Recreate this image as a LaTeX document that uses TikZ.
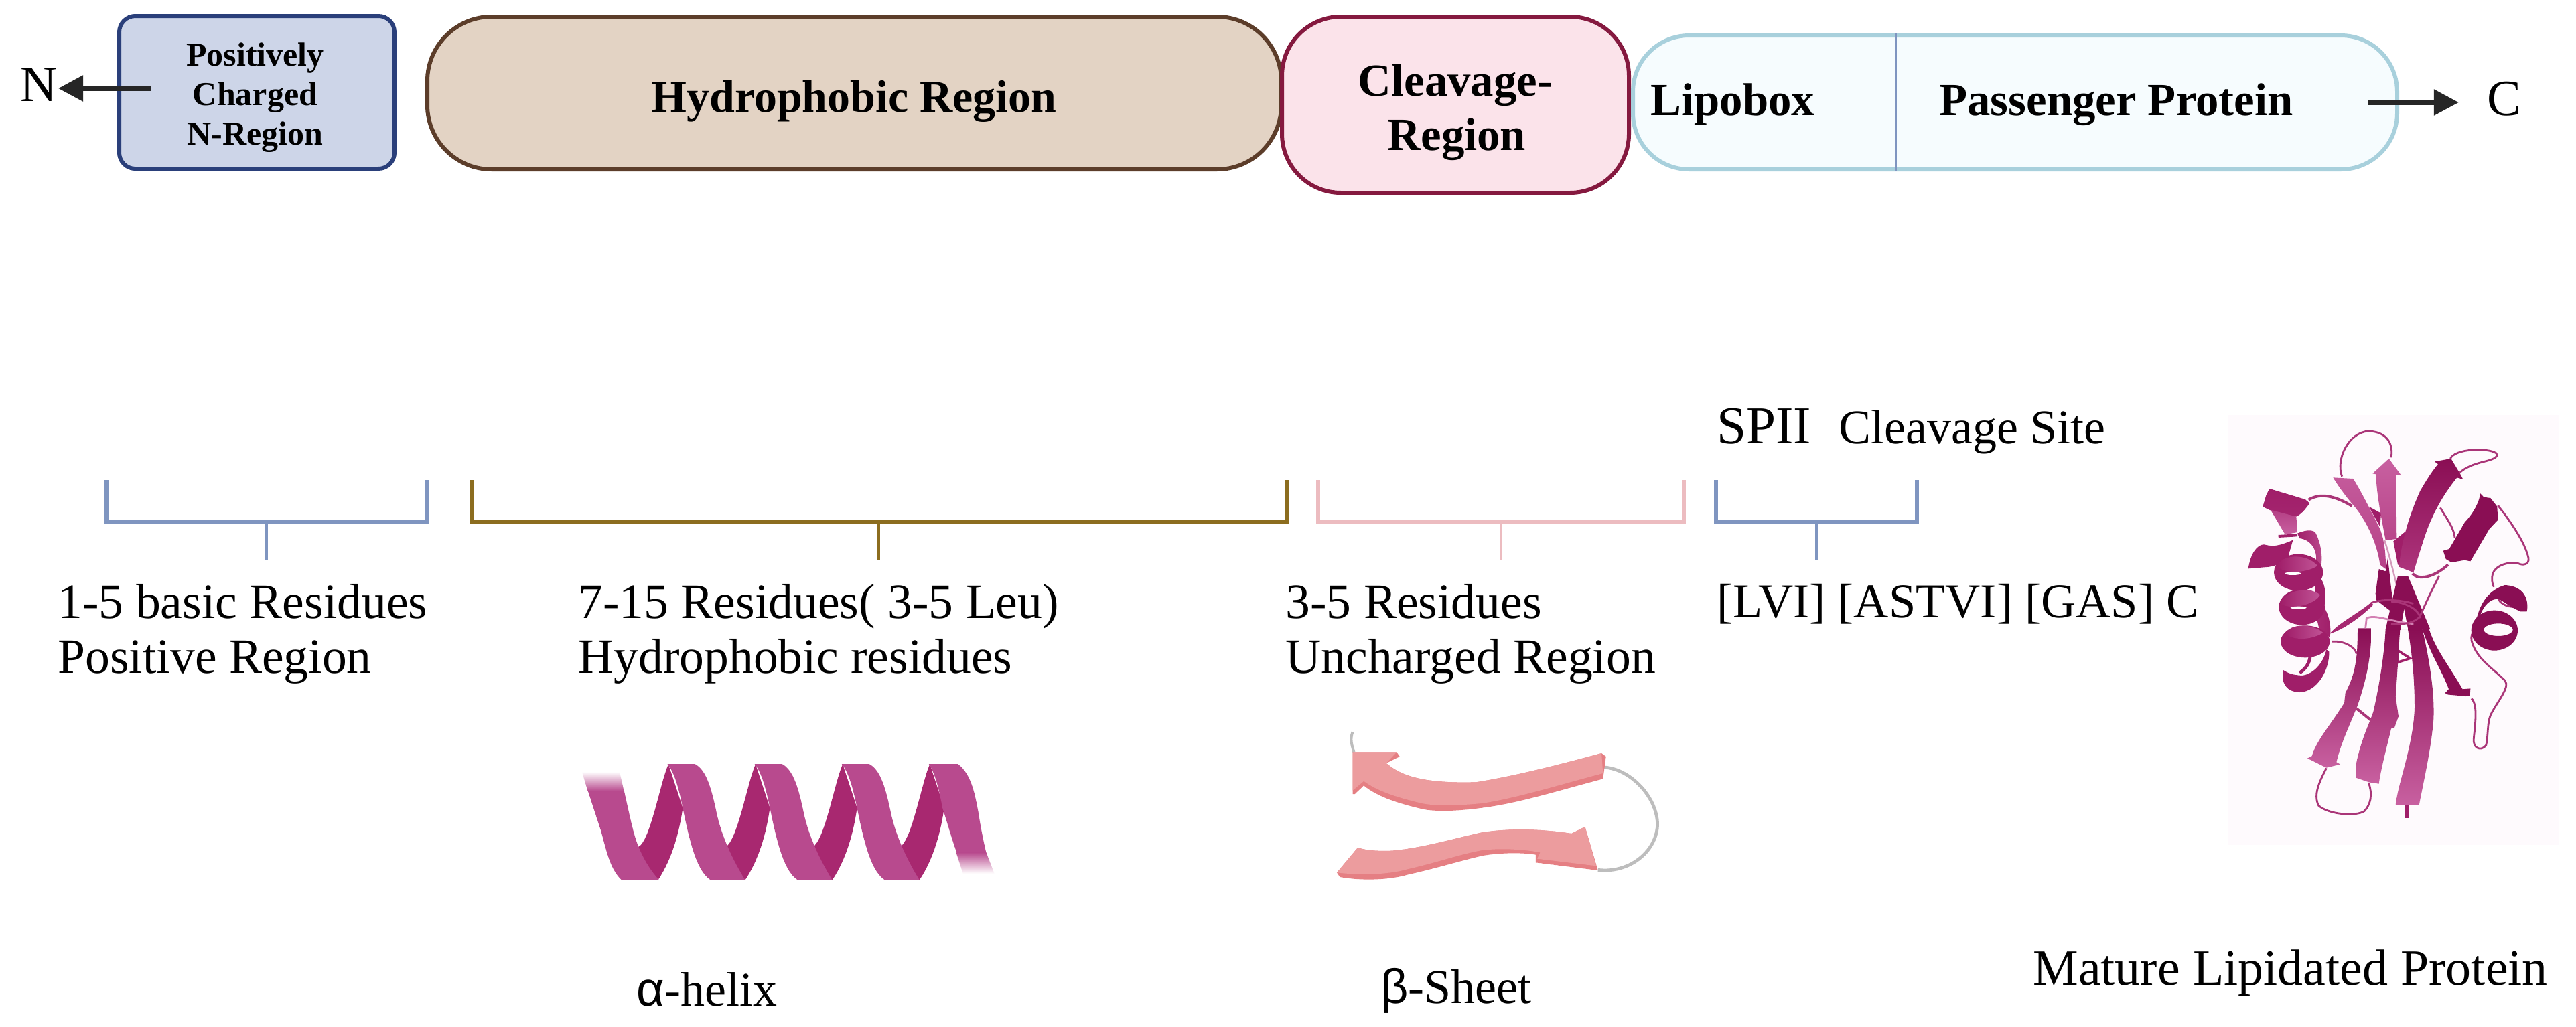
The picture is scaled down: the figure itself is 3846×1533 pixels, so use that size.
\documentclass[tikz,border=0pt]{standalone}
\usepackage{fontspec}
\setmainfont{Liberation Serif}
\newfontfamily\greekfont{Liberation Sans}
\usetikzlibrary{arrows.meta}

\definecolor{nblue}{RGB}{42,63,122}
\definecolor{nfill}{RGB}{205,213,232}
\definecolor{hbrown}{RGB}{92,61,42}
\definecolor{hfill}{RGB}{227,211,196}
\definecolor{cred}{RGB}{133,25,63}
\definecolor{cfill}{RGB}{251,227,234}
\definecolor{lcyan}{RGB}{168,208,220}
\definecolor{lfill}{RGB}{246,252,254}
\definecolor{brblue}{RGB}{127,149,192}
\definecolor{brgold}{RGB}{140,109,31}
\definecolor{brpink}{RGB}{236,188,192}
\definecolor{helixlight}{RGB}{184,74,142}
\definecolor{helixdark}{RGB}{168,40,112}
\definecolor{sheetlight}{RGB}{236,156,158}
\definecolor{sheetdark}{RGB}{229,127,131}
\definecolor{loopgrey}{RGB}{189,189,189}
\definecolor{protdark}{RGB}{138,14,84}
\definecolor{protmid}{RGB}{160,30,105}
\definecolor{protlight}{RGB}{200,96,160}
\definecolor{protback}{RGB}{254,250,253}

\tikzset{
  every picture/.style={line width=0.75pt},
  regionbox/.style={draw,line width=1.5pt,inner sep=0pt,align=center},
  labeltext/.style={font=\fontsize{18.4}{20.5}\selectfont,inner sep=0pt,align=left,anchor=north west},
  boldtext/.style={font=\fontsize{17.2}{20.2}\selectfont\bfseries,inner sep=0pt,align=center},
  endarrow/.style={line width=2pt,-{Triangle[length=9.3pt,width=9.3pt]}},
  bracketline/.style={line width=1.35pt},
  stemline/.style={line width=0.9pt},
  protloop/.style={draw=protmid!90,line width=0.7pt,fill=none},
  cropa/.style={shift={(3340,630)},scale=0.3333},
  cropb/.style={shift={(3580,630)},scale=0.3333},
  cropd/.style={shift={(3420,940)},scale=0.3333}
}

\begin{document}
\begin{tikzpicture}[x=0.25pt,y=0.25pt,yscale=-1,xscale=1]
\useasboundingbox (0,0) rectangle (3846,1533);

%Shape: Region Boxes
\draw (383.5,138) node (nreg) [regionbox,draw=nblue,fill=nfill,rounded corners=6pt,minimum width=102.75pt,minimum height=57pt] {};
\draw (1275.5,139) node (hreg) [regionbox,draw=hbrown,fill=hfill,rounded corners=24pt,minimum width=318.75pt,minimum height=57pt] {};
\draw (2173,156.5) node (creg) [regionbox,draw=cred,fill=cfill,rounded corners=22pt,minimum width=129.5pt,minimum height=65.75pt] {};
\draw (3008.5,153) node (lreg) [regionbox,draw=lcyan,fill=lfill,rounded corners=21pt,minimum width=285.25pt,minimum height=50pt] {};

%Straight Lines
\coordinate (lipodiv) at (2830,153);
\draw [color=brblue] (lipodiv |- lreg.north) -- (lipodiv |- lreg.south);

% Text Node
\draw (381,98) node (ntext) [anchor=base,inner sep=0pt,align=center,font=\fontsize{12.5}{14.75}\selectfont\bfseries] {Positively};
\draw (381,157) node (ntextb) [anchor=base,inner sep=0pt,font=\fontsize{12.5}{14.75}\selectfont\bfseries] {Charged};
\draw (381,216) node (ntextc) [anchor=base,inner sep=0pt,font=\fontsize{12.5}{14.75}\selectfont\bfseries] {N-Region};
% Text Node
\draw (971,167) node (htext) [boldtext,anchor=base west,font=\fontsize{17}{20}\selectfont\bfseries] {Hydrophobic Region};
% Text Node
\draw (2173,143) node (ctexta) [boldtext,anchor=base] {Cleavage-};
\draw (2175,224) node (ctextb) [boldtext,anchor=base] {Region};
% Text Node
\draw (2463,172) node (ltext) [boldtext,anchor=base west] {Lipobox};
\draw (2894,172) node (ptext) [boldtext,anchor=base west] {Passenger Protein};
% Text Node
\draw (29,151) node (nend) [anchor=base west,inner sep=0pt,font=\fontsize{19}{20}\selectfont] {N};
\draw (3712,172) node (cend) [anchor=base west,inner sep=0pt,font=\fontsize{19}{20}\selectfont] {C};

%Straight Lines
\coordinate (narrow) at (225,132);
\coordinate (carrow) at (3535,153);
\coordinate (ctip) at (3671,153);
\draw [endarrow,color=black!85] (narrow) -- (nend.east |- narrow);
\draw [endarrow,color=black!85] (carrow) -- (ctip);

%Shape: Brackets
\draw [bracketline,color=brblue] (159,717) -- (159,780) -- (638,780) -- (638,717);
\draw [bracketline,color=brgold] (704,717) -- (704,780) -- (1922,780) -- (1922,717);
\draw [bracketline,color=brpink] (1968,717) -- (1968,780) -- (2514,780) -- (2514,717);
\draw [bracketline,color=brblue] (2562,717) -- (2562,780) -- (2862,780) -- (2862,717);
\coordinate (posa) at (398,780);
\coordinate (posb) at (398,837);
\coordinate (hyda) at (1312,780);
\coordinate (hydb) at (1312,837);
\coordinate (unca) at (2241,780);
\coordinate (uncb) at (2241,837);
\coordinate (siga) at (2712,780);
\coordinate (sigb) at (2712,837);
\draw [stemline,color=brblue] (posa) -- (posb);
\draw [stemline,color=brgold] (hyda) -- (hydb);
\draw [stemline,color=brpink] (unca) -- (uncb);
\draw [stemline,color=brblue] (siga) -- (sigb);

% Text Node
\draw (85,871) node (postext) [labeltext] {1-5 basic Residues\\Positive Region};
\draw (862,871) node (hydtext) [labeltext] {7-15 Residues( 3-5 Leu)\\Hydrophobic residues};
\draw (1918,871) node (unctext) [labeltext] {3-5 Residues\\Uncharged Region};
\draw (2562,871) node (lvitext) [labeltext,font=\fontsize{18.1}{20.5}\selectfont] {[LVI] [ASTVI] [GAS] C};
\draw (2562,662) node (spii) [anchor=base west,inner sep=0pt,font=\fontsize{19.8}{21}\selectfont] {SPII};
\draw (2744,662) node (sitetext) [anchor=base west,inner sep=0pt,font=\fontsize{18}{20}\selectfont] {Cleavage Site};
\draw (949,1502) node (alpha) [anchor=base west,inner sep=0pt,font=\fontsize{18}{20}\selectfont] {{\greekfont α}-helix};
\draw (2060,1498) node (beta) [anchor=base west,inner sep=0pt,font=\fontsize{18}{20}\selectfont] {{\greekfont β}-Sheet};
\draw (3034,1471) node (mature) [anchor=base west,inner sep=0pt,font=\fontsize{19}{20}\selectfont] {Mature Lipidated Protein};

%Shape: Helix
\begin{scope}[shift={(800,1060)},xscale=0.5102,yscale=0.3333]
\foreach \k in {0,255,510,765} {
  \fill [helixdark,shift={(\k,0)}] (300,615) .. controls (335,590) and (365,320) .. (388,245) -- (430,440) .. controls (415,600) and (385,700) .. (358,762) -- (320,762) -- cycle;
}
\foreach \k in {0,255,510} {
  \fill [helixlight,shift={(\k,0)}] (385,243) -- (465,243) .. controls (500,270) and (515,360) .. (530,470) .. controls (545,570) and (575,670) .. (612,762) -- (510,762) .. controls (470,720) and (450,590) .. (430,440) .. controls (418,350) and (405,280) .. (385,243) -- cycle;
}
\fill [helixlight] (152,362) -- (258,362) .. controls (270,440) and (285,560) .. (300,612) .. controls (315,670) and (335,720) .. (360,762) -- (250,762) .. controls (215,710) and (205,620) .. (190,540) -- cycle;
\shade [top color=white,bottom color=helixlight] (135,278) -- (245,278) -- (258,365) -- (152,365) -- cycle;
\fill [helixlight] (1150,243) -- (1235,243) .. controls (1275,290) and (1285,380) .. (1295,460) .. controls (1302,530) and (1310,590) .. (1318,642) -- (1232,642) .. controls (1215,570) and (1205,510) .. (1190,440) .. controls (1180,360) and (1170,290) .. (1150,243) -- cycle;
\shade [top color=helixlight,bottom color=white] (1230,640) -- (1318,640) -- (1342,735) -- (1250,735) -- cycle;
\end{scope}

%Shape: Sheet
\begin{scope}[shift={(1900,1060)},xscale=0.4464,yscale=0.3333]
\draw [color=loopgrey,line width=1.2pt] (1108,258) .. controls (1200,265) and (1290,400) .. (1287,520) .. controls (1282,640) and (1190,735) .. (1088,718);
\draw [color=loopgrey,line width=1pt] (268,100) .. controls (258,130) and (265,160) .. (272,190);
\fill [sheetdark] (268,190) -- (415,190) -- (425,210) -- (380,240) -- (395,255) .. controls (450,310) and (540,330) .. (680,325) .. controls (800,300) and (950,250) .. (1100,195) -- (1115,210) -- (1105,310) .. controls (950,365) and (820,420) .. (700,440) .. controls (620,455) and (540,458) .. (500,445) .. controls (420,420) and (350,390) .. (305,340) -- (275,378) -- (268,378) -- cycle;
\fill [sheetlight] (268,190) -- (415,190) -- (380,240) -- (395,255) .. controls (450,310) and (540,330) .. (680,325) .. controls (800,300) and (950,250) .. (1100,195) -- (1105,285) .. controls (950,340) and (820,395) .. (700,420) .. controls (620,430) and (540,432) .. (500,420) .. controls (420,395) and (350,365) .. (305,320) -- (268,362) -- cycle;
\fill [sheetdark] (285,618) -- (215,730) -- (225,750) .. controls (310,770) and (400,760) .. (450,740) .. controls (550,710) and (620,680) .. (700,655) .. controls (760,640) and (840,640) .. (880,650) -- (880,685) -- (1088,720) -- (1045,525) -- (1000,555) .. controls (900,535) and (800,530) .. (700,550) .. controls (600,580) and (500,620) .. (400,632) .. controls (350,635) and (310,630) .. (285,618) -- cycle;
\fill [sheetlight] (285,618) -- (215,730) .. controls (310,745) and (400,735) .. (450,715) .. controls (550,685) and (620,650) .. (700,630) .. controls (760,620) and (840,625) .. (895,640) -- (885,668) -- (1082,700) -- (1045,525) -- (1000,555) .. controls (900,535) and (800,530) .. (700,550) .. controls (600,580) and (500,620) .. (400,632) .. controls (350,635) and (310,630) .. (285,618) -- cycle;
\end{scope}

%Shape: Protein
\fill [protback] (3327,620) rectangle (3820,1262);
% left part
\begin{scope}[cropa]
\draw [protloop] (470,245) .. controls (440,170) and (500,45) .. (590,42) .. controls (680,45) and (700,110) .. (690,160);
\draw [protloop,line width=1pt] (320,350) .. controls (360,325) and (420,320) .. (515,378);
\fill [protmid] (590,380) -- (645,410) -- (640,470) -- cycle;
\fill [protmid] (700,535) -- (750,495) -- (790,520) -- (760,660) -- (720,640) -- cycle;
\shade [top color=protlight!90!protmid,bottom color=protlight!55!protmid] (430,250) -- (520,255) .. controls (560,320) and (610,420) .. (640,480) .. controls (660,530) and (668,600) .. (665,660) -- (640,640) .. controls (630,560) and (590,460) .. (530,385) .. controls (500,350) and (460,300) .. (430,250) -- cycle;
\fill [protdark] (635,660) -- (665,670) -- (675,610) -- (695,790) -- (690,850) -- (625,800) -- (620,770) -- cycle;
\shade [top color=protlight,bottom color=protlight!60!protmid] (680,165) -- (735,240) -- (712,238) -- (715,525) -- (665,530) .. controls (640,400) and (625,320) .. (622,235) -- (607,232) -- cycle;
\draw [protmid!45,line width=0.6pt] (660,530) .. controls (690,620) and (710,720) .. (730,790);
\shade [top color=protmid,bottom color=protmid!90!protlight] (145,300) -- (305,348) -- (325,365) .. controls (300,400) and (285,415) .. (265,425) .. controls (200,420) and (150,400) .. (115,380) -- (130,330) -- cycle;
\shade [top color=protlight!50!protmid,bottom color=protlight] (150,395) -- (265,425) -- (270,495) -- (215,505) -- cycle;
\fill [protmid] (50,658) .. controls (60,590) and (90,550) .. (120,550) .. controls (150,556) and (170,565) .. (250,530) -- (230,600) .. controls (210,630) and (175,650) .. (120,652) -- cycle;
\shade [left color=protmid,right color=protlight!70!protmid] (270,500) .. controls (300,488) and (330,480) .. (350,495) .. controls (380,550) and (392,640) .. (360,690) -- (350,640) .. controls (365,590) and (340,530) .. (280,522) -- cycle;
\draw [protmid,line width=1pt] (185,513) -- (270,508);
\fill [protmid] (365,690) .. controls (395,720) and (405,780) .. (385,850) -- (350,800) -- (350,720) -- cycle;
\shade [left color=protmid!80!protlight,right color=protmid] (375,810) .. controls (410,850) and (425,920) .. (415,965) -- (370,940) -- (350,850) -- cycle;
\fill [protmid] (275,675) ellipse [x radius=110, y radius=82];
\shade [left color=protmid,right color=protlight!80!protmid] (180,650) .. controls (190,595) and (310,585) .. (360,645) .. controls (320,675) and (220,685) .. (180,650) -- cycle;
\fill [white] (250,680) ellipse [x radius=36, y radius=7];
\fill [protmid] (290,830) ellipse [x radius=103, y radius=80];
\shade [left color=protmid,right color=protlight!80!protmid] (192,815) .. controls (215,755) and (320,735) .. (372,775) .. controls (350,820) and (240,845) .. (192,815) -- cycle;
\fill [white] (275,833) ellipse [x radius=36, y radius=6];
\fill [protmid] (305,985) ellipse [x radius=110, y radius=72];
\shade [left color=protmid,right color=protlight!80!protmid] (215,950) .. controls (240,900) and (340,905) .. (385,945) .. controls (340,975) and (260,985) .. (215,950) -- cycle;
\end{scope}
% lower part
\begin{scope}[cropd]
\draw [protloop] (185,55) .. controls (240,50) and (290,80) .. (295,110);
\draw [protmid,line width=1.2pt] (40,195) .. controls (70,175) and (85,150) .. (88,115);
\fill [protmid] (-33,183) .. controls (0,205) and (30,205) .. (50,207) .. controls (110,200) and (150,140) .. (160,90) -- (172,100) .. controls (175,180) and (120,280) .. (40,282) .. controls (-20,280) and (-45,240) .. (-33,183) -- cycle;
\draw [protloop] (810,310) .. controls (840,340) and (825,430) .. (820,490) .. controls (815,530) and (850,550) .. (875,520) .. controls (885,480) and (880,420) .. (895,385) .. controls (920,330) and (985,260) .. (960,230) .. controls (900,170) and (830,130) .. (810,50) .. controls (808,30) and (810,15) .. (830,0);
\draw [protloop] (160,622) .. controls (130,680) and (100,740) .. (125,790) .. controls (170,830) and (290,840) .. (330,815) .. controls (370,770) and (360,720) .. (350,690);
\draw [protloop,line width=1pt] (295,355) -- (357,405);
\draw [protmid,line width=1.1pt] (520,788) -- (520,845);
\draw [protmid,line width=0.9pt,fill=white] (480,95) -- (535,130) -- (480,148) -- cycle;
\fill [protdark] (480,-240) -- (525,-240) -- (625,0) -- (425,0) -- cycle;
\fill [white] (492,2) -- (526,2) -- (508,-90) -- cycle;
\fill [protdark] (590,0) -- (620,0) .. controls (650,90) and (700,150) .. (770,268) -- (805,265) -- (803,298) -- (785,300) -- (700,292) -- (692,285) -- (708,268) .. controls (680,190) and (630,120) .. (590,0) -- cycle;
\shade [top color=protdark,bottom color=protlight] (300,-5) -- (362,-5) .. controls (360,130) and (340,220) .. (300,340) .. controls (260,440) and (225,510) .. (205,595) -- (222,605) -- (160,620) -- (75,578) -- (95,568) .. controls (115,500) and (170,440) .. (240,330) -- (245,285) .. controls (290,200) and (300,130) .. (300,-5) -- cycle;
\shade [top color=protdark,bottom color=protlight] (425,0) .. controls (420,100) and (400,240) .. (370,370) -- (355,410) .. controls (330,470) and (305,540) .. (292,610) -- (292,665) -- (350,685) -- (395,692) .. controls (405,620) and (435,510) .. (450,445) -- (465,440) -- (483,390) -- (470,300) .. controls (480,170) and (485,60) .. (490,0) -- cycle;
\shade [top color=protdark,bottom color=protlight] (525,0) -- (590,0) .. controls (620,130) and (645,280) .. (640,400) .. controls (630,530) and (600,660) .. (575,788) -- (470,788) .. controls (480,690) and (550,520) .. (555,350) .. controls (555,200) and (540,90) .. (525,0) -- cycle;
\end{scope}
% crossing lines
\begin{scope}[cropa]
\fill [protmid!85!protlight] (415,950) .. controls (450,905) and (540,860) .. (600,810) -- (610,820) .. controls (560,870) and (480,930) .. (415,950) -- cycle;
\draw [protloop] (600,812) .. controls (660,790) and (740,800) .. (790,815);
\draw [protloop,draw=protlight!80!white] (575,925) -- (580,880) .. controls (620,860) and (700,900) .. (790,905);
\end{scope}
% right part
\begin{scope}[cropb]
\draw [protloop] (235,165) .. controls (255,120) and (400,115) .. (440,140) .. controls (455,160) and (420,170) .. (380,180) .. controls (340,190) and (300,205) .. (275,230);
\draw [protloop] (190,385) .. controls (215,430) and (250,470) .. (255,520);
\draw [protloop,line width=1pt] (65,680) .. controls (90,710) and (160,700) .. (225,640);
\draw [protloop] (185,690) .. controls (150,760) and (130,800) .. (100,870) .. controls (80,900) and (30,910) .. (-30,905);
\draw [protloop] (-30,805) .. controls (0,805) and (90,825) .. (100,880);
\draw [protloop] (448,375) .. controls (500,440) and (570,540) .. (585,610) .. controls (590,640) and (560,645) .. (540,635) .. controls (500,625) and (440,640) .. (425,680) .. controls (420,700) and (420,720) .. (430,740);
\draw [protloop] (450,795) .. controls (470,830) and (520,835) .. (555,825);
\shade [top color=protdark,bottom color=protlight!35!protmid] (165,178) -- (238,165) -- (280,235) -- (292,258) -- (265,250) .. controls (200,330) and (150,420) .. (115,530) -- (85,625) -- (70,675) -- (5,650) .. controls (15,540) and (50,420) .. (100,310) .. controls (120,275) and (150,225) .. (180,190) -- cycle;
\fill [protdark] (368,320) -- (385,338) -- (415,342) -- (445,380) -- (448,440) -- (410,480) -- (325,625) -- (300,620) -- (240,630) -- (215,615) -- (203,578) -- (230,570) -- (300,450) .. controls (330,420) and (368,360) .. (368,320) -- cycle;
\fill [protdark] (340,960) .. controls (350,850) and (385,760) .. (480,732) .. controls (550,735) and (590,780) .. (578,850) -- (550,850) .. controls (500,830) and (470,800) .. (450,795) .. controls (420,790) and (385,820) .. (370,865) -- cycle;
\fill [protdark,even odd rule] (433,935) ellipse [x radius=104, y radius=90] (450,932) ellipse [x radius=65, y radius=28];
\end{scope}

\end{tikzpicture}
\end{document}
